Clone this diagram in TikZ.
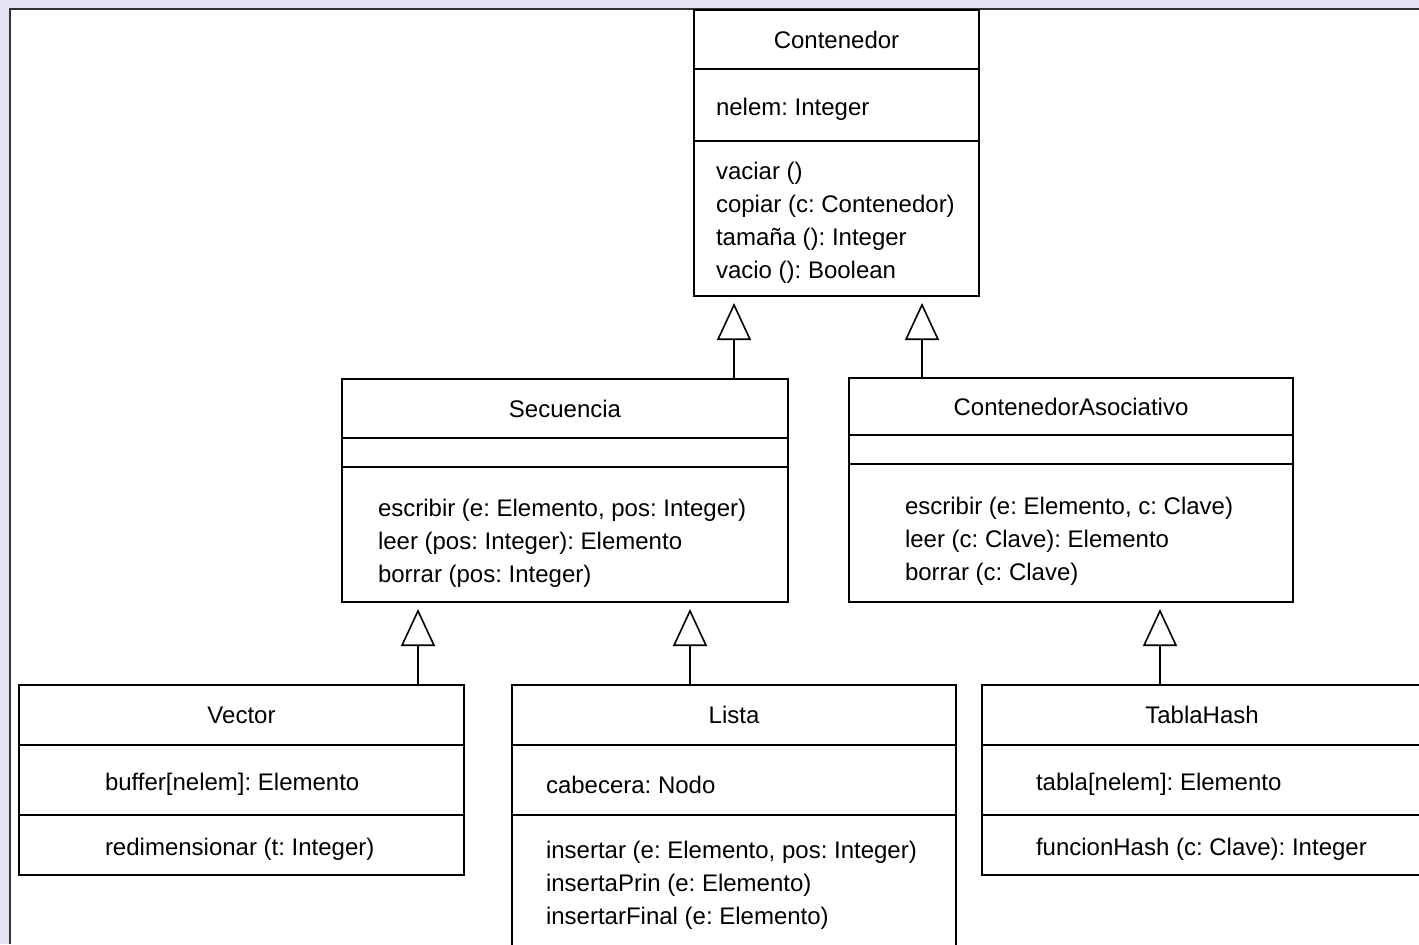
\documentclass[tikz,border=0pt]{standalone}
\usepackage{fontspec}
\setmainfont{Liberation Sans}
\usetikzlibrary{shapes.multipart,arrows.meta}
\definecolor{panelbg}{RGB}{228,228,242}
\frenchspacing
\newdimen\px \px=0.5pt
\newcommand{\cname}[3]{\begin{minipage}[c][\dimexpr#2\px-1.1pt\relax][c]{#1\px}\centering #3\end{minipage}}
\newcommand{\cpart}[4]{\begin{minipage}[c][\dimexpr#2\px-1.1pt\relax][c]{#1\px}\vspace*{9\px}\raggedright\leftskip=#3\px\relax #4\end{minipage}}

\begin{document}
\begin{tikzpicture}
	[x=0.5pt, y=-0.5pt, font=\fontsize{12}{16.5}\selectfont,
	 umlclass/.style={draw, line width=1.1pt, rectangle split, rectangle split parts=3,
	   inner sep=0pt, outer sep=0pt, anchor=north west},
	 inherits/.style={line width=1.1pt, -{Triangle[open, length=18.5pt, width=17pt, line width=0.8pt]},
	   shorten >=3.5pt}]
	\useasboundingbox (0,0) rectangle (1419,944);
	\fill[panelbg] (0,0) rectangle (1419,944);
	\fill[white] (10,9) rectangle (1419,944);
	\draw[line width=1pt, black!80] (10,944) |- (1419,9);

	\node[umlclass] (cont) at (694,10) {\cname{285}{59}{Contenedor}
		\nodepart{second}\cpart{285}{72}{22}{nelem: Integer}
		\nodepart{third}\cpart{285}{155}{22}{vaciar ()\\copiar (c: Contenedor)\\tamaña (): Integer\\vacio (): Boolean}};
	\node[umlclass] (sec) at (342,379) {\cname{446}{59}{Secuencia}
		\nodepart{second}\cpart{446}{29}{0}{}
		\nodepart{third}\cpart{446}{135}{36}{\vspace*{8\px}escribir (e: Elemento, pos: Integer)\\leer (pos: Integer): Elemento\\borrar (pos: Integer)}};
	\node[umlclass] (asoc) at (849,378) {\cname{444}{57}{ContenedorAsociativo}
		\nodepart{second}\cpart{444}{29}{0}{}
		\nodepart{third}\cpart{444}{138}{56}{\vspace*{8\px}escribir (e: Elemento, c: Clave)\\leer (c: Clave): Elemento\\borrar (c: Clave)}};
	\node[umlclass] (vec) at (19,685) {\cname{445}{60}{Vector}
		\nodepart{second}\cpart{445}{70}{86}{buffer[nelem]: Elemento}
		\nodepart{third}\cpart{445}{60}{86}{redimensionar (t: Integer)}};
	\node[umlclass] (lista) at (512,685) {\cname{444}{60}{Lista}
		\nodepart{second}\cpart{444}{70}{34}{cabecera: Nodo}
		\nodepart{third}\cpart{444}{132}{34}{insertar (e: Elemento, pos: Integer)\\insertaPrin (e: Elemento)\\insertarFinal (e: Elemento)}};
	\node[umlclass] (hash) at (982,685) {\cname{440}{60}{TablaHash}
		\nodepart{second}\cpart{440}{70}{54}{tabla[nelem]: Elemento}
		\nodepart{third}\cpart{440}{60}{54}{funcionHash (c: Clave): Integer}};

	\coordinate (l1) at (734,0);
	\coordinate (l2) at (922,0);
	\coordinate (l3) at (418,0);
	\coordinate (l4) at (690,0);
	\coordinate (l5) at (1160,0);
	\draw[inherits] (sec.north -| l1) -- (cont.south -| l1);
	\draw[inherits] (asoc.north -| l2) -- (cont.south -| l2);
	\draw[inherits] (vec.north -| l3) -- (sec.south -| l3);
	\draw[inherits] (lista.north -| l4) -- (sec.south -| l4);
	\draw[inherits] (hash.north -| l5) -- (asoc.south -| l5);
\end{tikzpicture}
\end{document}
